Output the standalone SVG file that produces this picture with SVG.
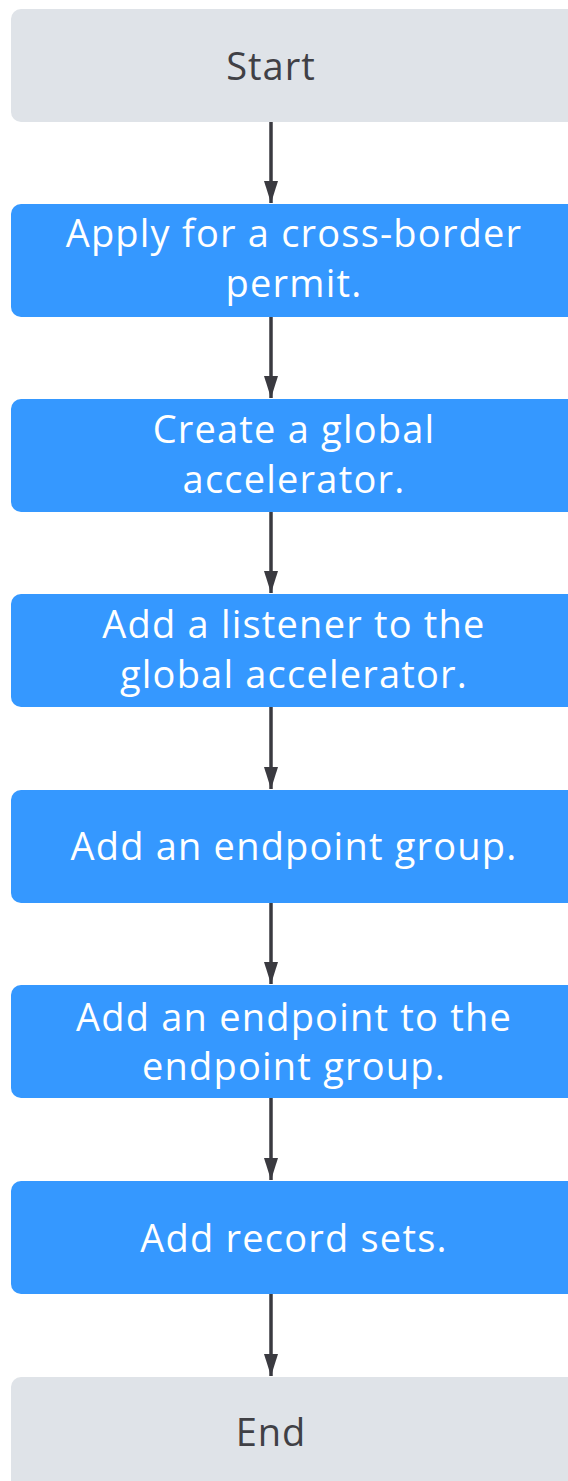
<svg xmlns="http://www.w3.org/2000/svg" width="568" height="1481" viewBox="0 0 568 1481">
<defs>
<style>
.term{fill:#DFE3E8}
.step{fill:#3598FF}
.tt{font-family:"Open Sans","Noto Sans",sans-serif;font-size:38px;letter-spacing:1px;fill:#404045;text-anchor:middle}
.st{font-family:"Open Sans","Noto Sans",sans-serif;font-size:38px;letter-spacing:1.2px;fill:#FFFFFF;text-anchor:middle}
.conn{stroke:#3A3A40;stroke-width:3.5;fill:none}
</style>
<marker id="ah" markerUnits="userSpaceOnUse" markerWidth="22" markerHeight="14" refX="22" refY="7" orient="auto" viewBox="0 0 22 14">
<path d="M0,0 L22,7 L0,14 Z" fill="#3A3A40"/>
</marker>
</defs>
<rect width="568" height="1481" fill="#FFFFFF"/>
<g id="start"><rect class="term" x="11" y="9" width="580" height="113" rx="10"/><text class="tt" x="271" y="80">Start</text></g>
<g id="step1"><rect class="step" x="11" y="204" width="580" height="113" rx="10"/><text class="st" x="294" y="247">Apply for a cross-border</text><text class="st" x="294" y="297">permit.</text></g>
<g id="step2"><rect class="step" x="11" y="399" width="580" height="113" rx="10"/><text class="st" x="294" y="443">Create a global</text><text class="st" x="294" y="493">accelerator.</text></g>
<g id="step3"><rect class="step" x="11" y="594" width="580" height="113" rx="10"/><text class="st" x="294" y="638">Add a listener to the</text><text class="st" x="294" y="688">global accelerator.</text></g>
<g id="step4"><rect class="step" x="11" y="790" width="580" height="113" rx="10"/><text class="st" x="294" y="860">Add an endpoint group.</text></g>
<g id="step5"><rect class="step" x="11" y="985" width="580" height="113" rx="10"/><text class="st" x="294" y="1031">Add an endpoint to the</text><text class="st" x="294" y="1080">endpoint group.</text></g>
<g id="step6"><rect class="step" x="11" y="1181" width="580" height="113" rx="10"/><text class="st" x="294" y="1252">Add record sets.</text></g>
<g id="end"><rect class="term" x="11" y="1377" width="580" height="130" rx="10"/><text class="tt" x="271" y="1446">End</text></g>
<g id="connectors">
<line class="conn" x1="271" y1="122" x2="271" y2="203" marker-end="url(#ah)"/>
<line class="conn" x1="271" y1="317" x2="271" y2="398" marker-end="url(#ah)"/>
<line class="conn" x1="271" y1="512" x2="271" y2="593" marker-end="url(#ah)"/>
<line class="conn" x1="271" y1="707" x2="271" y2="789" marker-end="url(#ah)"/>
<line class="conn" x1="271" y1="903" x2="271" y2="984" marker-end="url(#ah)"/>
<line class="conn" x1="271" y1="1098" x2="271" y2="1180" marker-end="url(#ah)"/>
<line class="conn" x1="271" y1="1294" x2="271" y2="1376" marker-end="url(#ah)"/>
</g>
</svg>
